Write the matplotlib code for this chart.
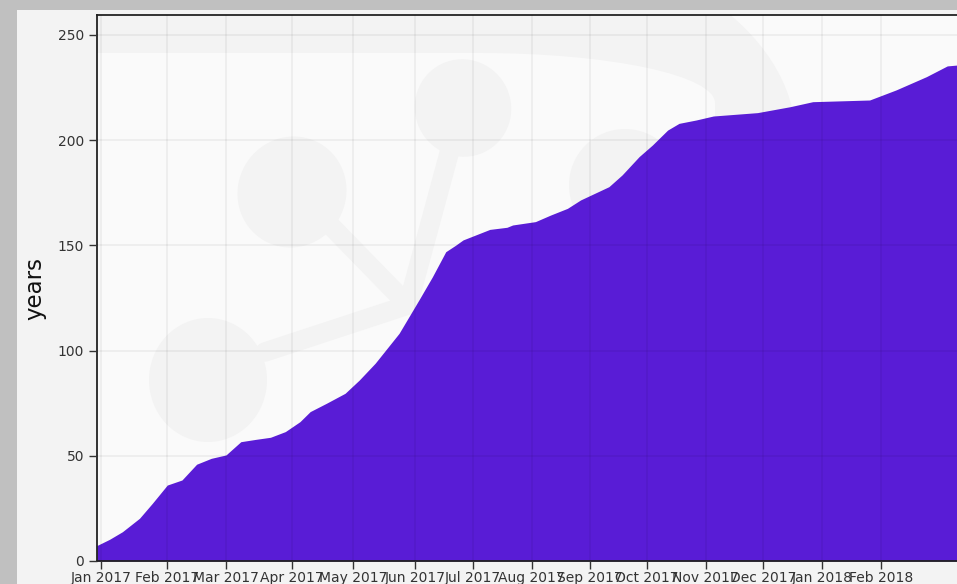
import matplotlib
matplotlib.use("Agg")
import matplotlib.dates as mdates
import matplotlib.pyplot as plt
import matplotlib.transforms as mtransforms
from datetime import datetime
from matplotlib.patches import Ellipse, Rectangle
import numpy as np
import pandas as pd

# cumulative code age, sampled roughly weekly
dates = pd.to_datetime([
    "2016-12-30", "2017-01-05", "2017-01-11", "2017-01-19", "2017-01-25",
    "2017-02-01", "2017-02-08", "2017-02-15", "2017-02-22", "2017-03-01",
    "2017-03-08", "2017-03-15", "2017-03-22", "2017-03-29", "2017-04-05",
    "2017-04-10", "2017-04-18", "2017-04-27", "2017-05-04", "2017-05-12",
    "2017-05-24", "2017-06-03", "2017-06-10", "2017-06-17", "2017-06-22",
    "2017-06-26", "2017-07-10", "2017-07-19", "2017-07-22", "2017-08-03",
    "2017-08-11", "2017-08-20", "2017-08-27", "2017-09-11", "2017-09-18",
    "2017-09-27", "2017-10-04", "2017-10-12", "2017-10-18", "2017-10-27",
    "2017-11-05", "2017-11-28", "2017-12-15", "2017-12-27", "2018-01-26",
    "2018-02-09", "2018-02-25", "2018-03-08", "2018-03-13", "2018-03-16",
])
years = [
    7.3, 10.3, 13.9, 20.3, 27.4,
    36.1, 38.5, 46.0, 48.8, 50.4,
    56.7, 57.8, 58.8, 61.5, 66.2,
    71.0, 75.0, 79.7, 86.0, 94.0,
    108.2, 124.0, 135.0, 147.0, 150.0,
    152.6, 157.6, 158.6, 159.7, 161.3,
    164.4, 167.6, 171.6, 177.9, 183.5,
    192.2, 197.7, 204.8, 208.0, 209.6,
    211.5, 213.1, 215.9, 218.3, 219.1,
    223.9, 230.2, 235.3, 235.7, 236.0,
]

month_starts = pd.date_range("2017-01-01", "2018-02-01", freq="MS")
month_labels = [d.strftime("%b %Y") for d in month_starts]
# the time axis is not uniform: position of each month start along it
month_pos = [101.0, 167.3, 226.0, 291.7, 353.3, 415.0, 472.7,
             531.7, 590.0, 646.7, 705.7, 763.3, 822.3, 881.0]

W, H = 957, 584
FILL = "#591cd6"
LOGO = "#f3f3f3"
PLOT_BG = "#fafafa"

knot_t = mdates.date2num(month_starts.to_pydatetime())
knot_p = np.array(month_pos)


def piecewise(v, xs, ys):
    v = np.asarray(v, dtype=float)
    out = np.interp(v, xs, ys)
    lo = (ys[1] - ys[0]) / (xs[1] - xs[0])
    hi = (ys[-1] - ys[-2]) / (xs[-1] - xs[-2])
    out = np.where(v < xs[0], ys[0] + (v - xs[0]) * lo, out)
    out = np.where(v > xs[-1], ys[-1] + (v - xs[-1]) * hi, out)
    return out


def stretch(v):
    return piecewise(v, knot_t, knot_p)


def unstretch(v):
    return piecewise(v, knot_p, knot_t)


fig = plt.figure(figsize=(W / 100, H / 100), dpi=100, facecolor="#c0c0c0")
fig.add_artist(Rectangle((17 / W, 0), 1, 1 - 10 / H, transform=fig.transFigure,
                         facecolor="#f3f3f3", edgecolor="none", zorder=0))

ax = fig.add_axes([96.7 / W, 23 / H, 865.7 / W, 546 / H])
ax.set_facecolor(PLOT_BG)

# faint logo watermark behind the plot (pixel coords, origin top-left)
px = mtransforms.Affine2D().scale(1 / W, -1 / H).translate(0, 1) + fig.transFigure


def logo_patch(p, color=LOGO, z=0.2):
    p.set_transform(px)
    p.set_facecolor(color)
    p.set_edgecolor("none")
    p.set_zorder(z)
    ax.add_patch(p)


logo_patch(Rectangle((0, -20), 480, 320))
logo_patch(Ellipse((480, 140), 632, 410))
logo_patch(Rectangle((0, 53), 480, 600), PLOT_BG, 0.3)
logo_patch(Ellipse((480, 103), 470, 100), PLOT_BG, 0.3)
logo_patch(Rectangle((480, 103), 235, 600), PLOT_BG, 0.3)
logo_patch(Ellipse((463, 108), 96, 98, angle=-30), z=0.4)
logo_patch(Ellipse((292, 192), 108, 112, angle=30), z=0.4)
logo_patch(Ellipse((208, 380), 118, 124), z=0.4)
logo_patch(Ellipse((625, 185), 112, 112), z=0.4)
for x0, y0 in [(450, 150), (330, 225), (265, 352)]:
    ax.plot([x0, 408], [y0, 305], color=LOGO, lw=14, solid_capstyle="round",
            transform=px, zorder=0.4)

ax.fill_between(dates.to_numpy(), years, color=FILL, lw=0, zorder=2)

ax.set_xscale("function", functions=(stretch, unstretch))
ax.set_xticks(month_starts.to_pydatetime())
ax.set_xticklabels(month_labels)
ax.set_xlim(datetime(2016, 12, 30), datetime(2018, 3, 16))
ax.set_ylim(0, 259.5)
ax.set_yticks([0, 50, 100, 150, 200, 250])

ax.set_axisbelow(False)
ax.grid(True, color="k", alpha=0.05, lw=1.3)
ax.tick_params(direction="out", length=5.5, width=1, color="#333333",
               labelsize=10, labelcolor="#333333")
ax.tick_params(axis="x", pad=2)
for s in ax.spines.values():
    s.set_color("#222222")
    s.set_linewidth(1.3)

ax.set_ylabel("years", fontsize=16.5, labelpad=8, color="#111111")

fig.savefig("out.png", dpi=100, facecolor=fig.get_facecolor())
